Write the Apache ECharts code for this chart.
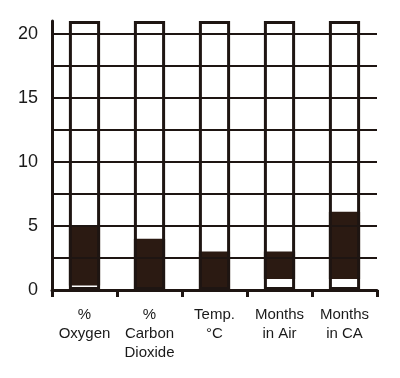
<!DOCTYPE html>
<html>
<head>
<meta charset="utf-8">
<script src="https://cdn.jsdelivr.net/npm/echarts@6/dist/echarts.min.js"></script>
<style>html,body{margin:0;padding:0;background:#fff;}#c{width:400px;height:378px;}</style>
</head>
<body>
<div id="c"></div>
<script>
var categories = ['%\nOxygen', '%\nCarbon\nDioxide', 'Temp.\n°C', 'Months\nin Air', 'Months\nin CA'];
var rangeLow = [0.35, 0, 0, 0.85, 0.85];
var rangeHigh = [5, 4, 3, 3, 6.1];
var scaleMax = [21, 21, 21, 21, 21];
var gridValues = [2.5, 5, 7.5, 10, 12.5, 15, 17.5, 20];
var yLabels = [0, 5, 10, 15, 20];

var ink = '#1e1512';
var fill = '#2b1a12';

var chart = echarts.init(document.getElementById('c'), null, {renderer: 'canvas'});
chart.setOption({
  animation: false,
  backgroundColor: '#fff',
  grid: {left: 52, right: 23, top: 21, bottom: 88, containLabel: false},
  xAxis: {
    type: 'category',
    data: categories,
    axisLine: {show: true, lineStyle: {color: ink, width: 3}},
    axisTick: {show: true, alignWithLabel: false, length: 7, lineStyle: {color: ink, width: 3}},
    axisLabel: {color: '#1a1a1a', fontFamily: 'Liberation Sans, Arial', fontSize: 15, lineHeight: 19, margin: 15, interval: 0},
    splitLine: {show: false}
  },
  yAxis: {
    type: 'value',
    min: 0, max: 21, interval: 2.5,
    axisLine: {show: true, lineStyle: {color: ink, width: 3}},
    axisTick: {show: false},
    splitLine: {show: false},
    axisLabel: {
      color: '#1a1a1a', fontFamily: 'Liberation Sans, Arial', fontSize: 18, margin: 14,
      formatter: function (v) { return yLabels.indexOf(v) >= 0 ? String(v) : ''; }
    }
  },
  series: [
    {
      type: 'bar', stack: 'r', barWidth: '48%', barGap: '-100%', z: 1,
      data: rangeLow,
      itemStyle: {color: 'transparent'},
      markLine: {
        silent: true, symbol: 'none', label: {show: false},
        lineStyle: {color: ink, width: 2, type: 'solid'},
        data: gridValues.map(function (v) { return {yAxis: v}; })
      }
    },
    {
      type: 'bar', stack: 'r', barWidth: '48%', barGap: '-100%', z: 3,
      data: rangeHigh.map(function (h, i) { return h - rangeLow[i]; }),
      itemStyle: {color: fill}
    },
    {
      type: 'bar', barWidth: '48%', barGap: '-100%', z: 4,
      data: scaleMax,
      itemStyle: {color: 'transparent', borderColor: ink, borderWidth: 3}
    }
  ]
});
</script>
</body>
</html>
